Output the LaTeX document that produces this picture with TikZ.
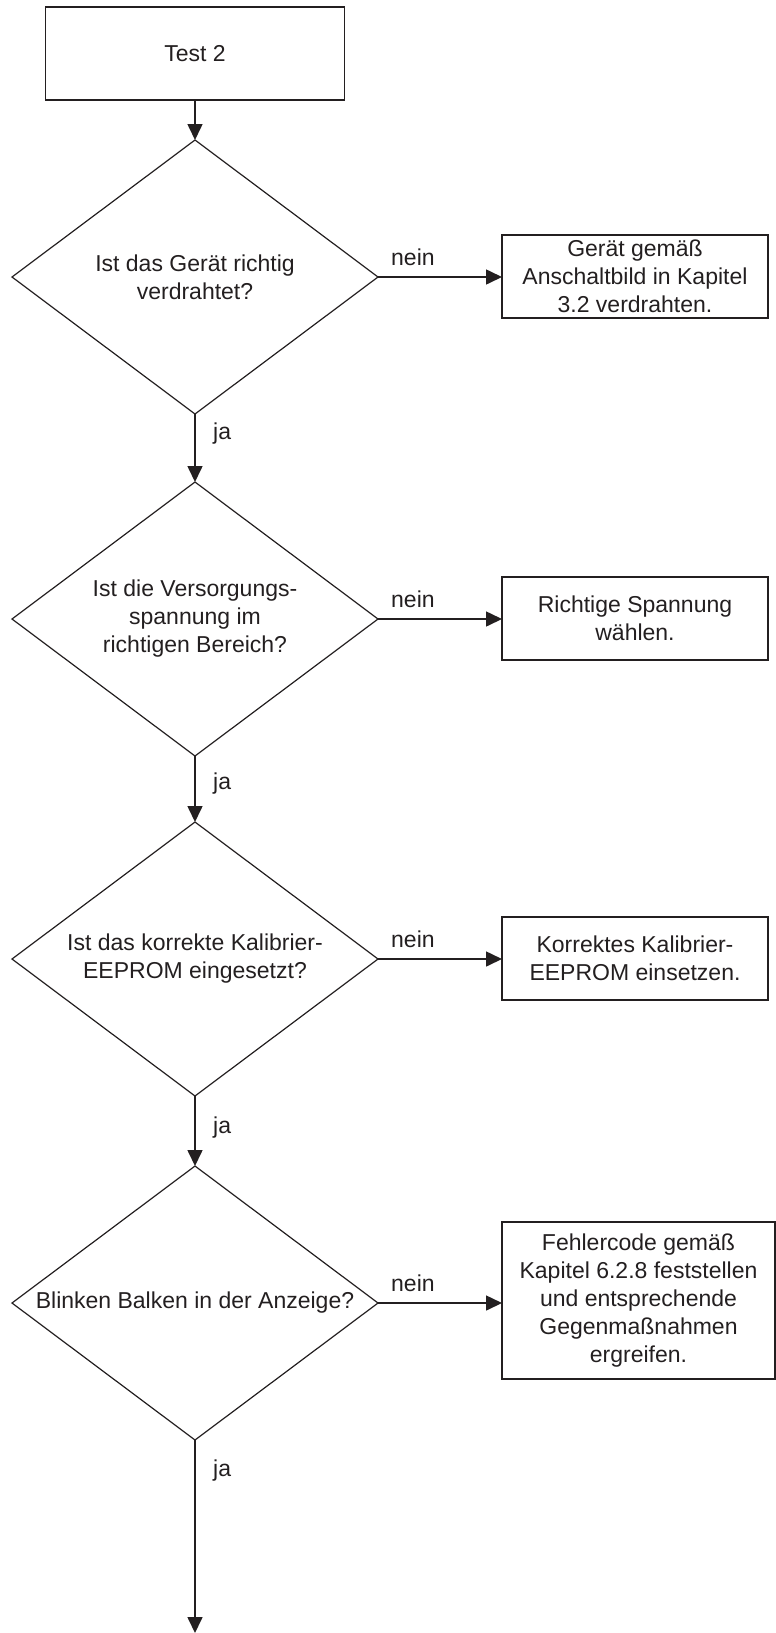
\documentclass[tikz,border=0pt]{standalone}
\usepackage{fontspec}
\setmainfont{Liberation Sans}
\usetikzlibrary{shapes.geometric,arrows.meta}
\definecolor{ink}{HTML}{231F20}
\begin{document}
\begin{tikzpicture}[x=1pt,y=-1pt,
  every node/.style={font=\fontsize{23}{28}\selectfont, text=ink},
  procbox/.style={draw=ink, line width=1.6pt, rectangle, inner sep=0pt, outer sep=0pt, align=center},
  decision/.style={draw=ink, line width=1.2pt, diamond, inner sep=0pt, outer sep=0pt,
                   minimum width=366pt, minimum height=274pt},
  qtext/.style={align=center, inner sep=0pt},
  flow/.style={draw=ink, line width=1.6pt, -{Triangle[length=16pt,width=15pt]}},
  edgelabel/.style={inner sep=0pt, anchor=base west}
]
\useasboundingbox (0,0) rectangle (776,1633);

% start box
\node[procbox, minimum width=299pt, minimum height=93pt] (start) at (195,53.4) {Test 2};

% decisions
\node[decision] (d1) at (195,277) {};
\node[qtext] (d1t) at (d1) {Ist das Gerät richtig\\verdrahtet?};
\node[decision] (d2) at (195,619) {};
\node[qtext] (d2t) at (d2) {Ist die Versorgungs-\\spannung im\\richtigen Bereich?};
\node[decision] (d3) at (195,959) {};
\node[qtext] (d3t) at (d3) {Ist das korrekte Kalibrier-\\EEPROM eingesetzt?};
\node[decision] (d4) at (195,1303) {};
\node[qtext] (d4t) at (d4) {Blinken Balken in der Anzeige?};

% actions
\node[procbox, minimum width=266pt, minimum height=83pt] (b1) at (635,276.5)
  {Gerät gemäß\\Anschaltbild in Kapitel\\3.2 verdrahten.};
\node[procbox, minimum width=266pt, minimum height=83pt] (b2) at (635,618.5)
  {Richtige Spannung\\wählen.};
\node[procbox, minimum width=266pt, minimum height=83pt] (b3) at (635,958.5)
  {Korrektes Kalibrier-\\EEPROM einsetzen.};
\node[procbox, minimum width=273pt, minimum height=157pt] (b4) at (638.5,1300.5)
  {Fehlercode gemäß\\Kapitel 6.2.8 feststellen\\und entsprechende\\Gegenmaßnahmen\\ergreifen.};

\coordinate (end) at (195,1633);

% main flow
\draw[flow] (start.south) -- (d1.north);
\draw[flow] (d1.south) -- (d2.north);
\draw[flow] (d2.south) -- (d3.north);
\draw[flow] (d3.south) -- (d4.north);
\draw[flow] (d4.south) -- (end);

% "nein" branches
\draw[flow] (d1.east) -- (d1.east -| b1.west);
\draw[flow] (d2.east) -- (d2.east -| b2.west);
\draw[flow] (d3.east) -- (d3.east -| b3.west);
\draw[flow] (d4.east) -- (d4.east -| b4.west);

\node[edgelabel] (n1) at ([xshift=13pt,yshift=12pt]d1.east) {nein};
\node[edgelabel] (n2) at ([xshift=13pt,yshift=12pt]d2.east) {nein};
\node[edgelabel] (n3) at ([xshift=13pt,yshift=12pt]d3.east) {nein};
\node[edgelabel] (n4) at ([xshift=13pt,yshift=12pt]d4.east) {nein};

% "ja" labels
\node[edgelabel] (j1) at ([xshift=18pt,yshift=-25pt]d1.south) {ja};
\node[edgelabel] (j2) at ([xshift=18pt,yshift=-33pt]d2.south) {ja};
\node[edgelabel] (j3) at ([xshift=18pt,yshift=-37pt]d3.south) {ja};
\node[edgelabel] (j4) at ([xshift=18pt,yshift=-36pt]d4.south) {ja};
\end{tikzpicture}
\end{document}
